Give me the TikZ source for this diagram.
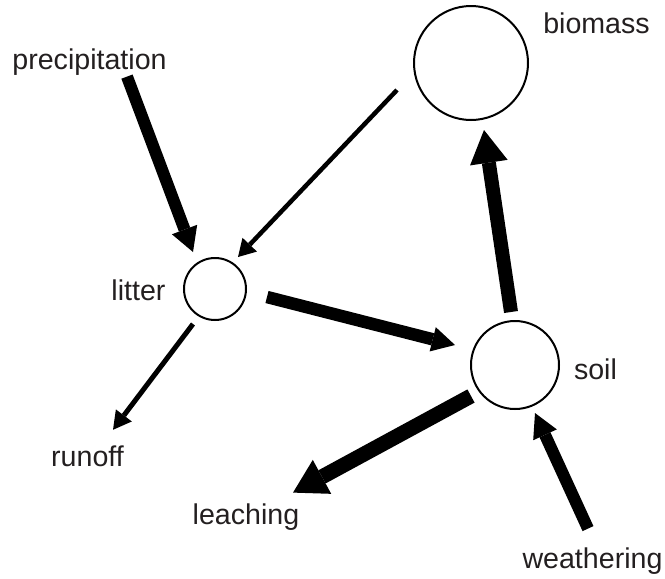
\documentclass[tikz,border=0pt]{standalone}
\usepackage{fontspec}
\setmainfont{Liberation Sans}
\usetikzlibrary{arrows.meta,calc}
\definecolor{labelgray}{RGB}{35,31,32}
\begin{document}
\begin{tikzpicture}[x=1pt,y=-1pt,
  pool/.style={circle, draw=black, line width=2pt, inner sep=0pt, fill=white},
  lbl/.style={anchor=base, text=labelgray, font=\fontsize{28.6}{34}\selectfont, inner sep=0pt},
  flow/.style n args={3}{line width=#1pt, -{Triangle[length=#2pt,width=#3pt,line width=0pt]}}]
\useasboundingbox (0,0) rectangle (665,579);
% pools
\node[pool, minimum size=114pt] (biomass) at (471,63) {};
\node[pool, minimum size=62pt] (litter) at (215,289) {};
\node[pool, minimum size=88pt] (soil) at (515,365) {};
% labels
\node[lbl] (precipitation) at (89.5,69) {precipitation};
\node[lbl] (biomasslbl) at (596.5,33) {biomass};
\node[lbl] (litterlbl) at (138.5,300) {litter};
\node[lbl] (soillbl) at (595.5,379) {soil};
\node[lbl] (runoff) at (87.5,466) {runoff};
\node[lbl] (leaching) at (246,524) {leaching};
\node[lbl] (weathering) at (592.5,568) {weathering};
% flows
\draw[flow={12}{24}{27}] ($(precipitation)+(37.5,15)$) -- ($(litter)+(-22,-37)$);
\draw[flow={4.5}{17}{20}] ($(biomass)+(-74,27)$) -- ($(litter)+(23,-32)$);
\draw[flow={12.5}{23}{25}] ($(litter)+(52,8)$) -- ($(soil)+(-60,-20)$);
\draw[flow={14}{33}{38}] ($(soil)+(-4,-53)$) -- ($(biomass)+(13,67)$);
\draw[flow={5}{18}{20}] ($(litter)+(-22,35)$) -- ($(runoff)+(25.5,-26)$);
\draw[flow={15}{33}{38.6}] ($(soil)+(-44,31)$) -- ($(leaching)+(47,-24)$);
\draw[flow={12}{24}{26}] ($(weathering)+(-4.5,-32)$) -- ($(soil)+(20,48)$);
\end{tikzpicture}
\end{document}
